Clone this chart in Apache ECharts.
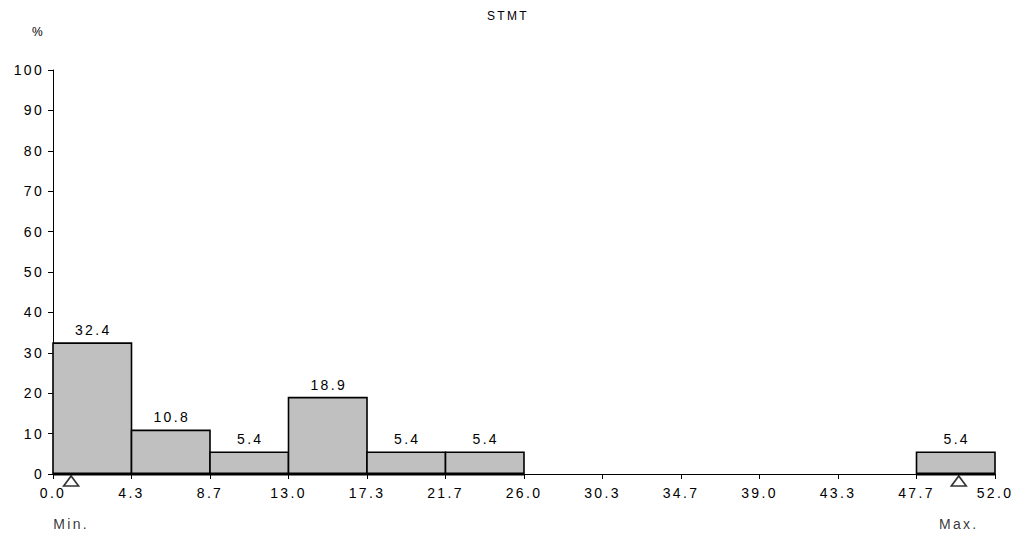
<!DOCTYPE html>
<html>
<head>
<meta charset="utf-8">
<script src="https://cdn.jsdelivr.net/npm/echarts@6/dist/echarts.min.js"></script>
<style>
html,body{margin:0;padding:0;background:#fff;}
#chart{width:1020px;height:538px;letter-spacing:2.3px;}
</style>
</head>
<body>
<div id="chart"></div>
<script>
var titleText = 'STMT';
var binStart = 0;
var binWidth = 13 / 3;
var binCount = 12;
var percentValues = [32.4, 10.8, 5.4, 18.9, 5.4, 5.4, 0, 0, 0, 0, 0, 5.4];
var minValue = 1.0;
var maxValue = 50.0;
var markerLabels = ['Min.', 'Max.'];
var yTicks = [0, 100, 10];

var barData = percentValues.map(function (v, i) {
  return [binStart + i * binWidth, binStart + (i + 1) * binWidth, v];
});

var font = 'Arial, "Liberation Sans", sans-serif';
var chart = echarts.init(document.getElementById('chart'), null, {renderer: 'svg'});
chart.setOption({
  animation: false,
  title: {
    text: titleText, left: 482, top: 5,
    textStyle: {fontSize: 12, fontWeight: 'normal', color: '#000', fontFamily: font}
  },
  grid: {left: 53, right: 25, top: 70, bottom: 64},
  xAxis: {
    type: 'value', min: 0, max: binWidth * binCount, interval: binWidth,
    axisLine: {lineStyle: {color: '#000', width: 1}},
    axisTick: {length: 5, lineStyle: {color: '#000'}},
    splitLine: {show: false},
    axisLabel: {
      color: '#000', fontSize: 14, fontFamily: font, margin: 12,
      formatter: function (v) { return v.toFixed(1); }
    }
  },
  yAxis: {
    type: 'value', min: yTicks[0], max: yTicks[1], interval: yTicks[2],
    name: '%', nameLocation: 'end', nameGap: 32,
    nameTextStyle: {color: '#000', fontSize: 12, fontFamily: font, align: 'right', padding: [0, 8, 0, 0]},
    axisLine: {show: true, lineStyle: {color: '#000', width: 1}},
    axisTick: {show: true, length: 5, lineStyle: {color: '#000'}},
    splitLine: {show: false},
    axisLabel: {color: '#000', fontSize: 14, fontFamily: font, margin: 9}
  },
  series: [{
    type: 'custom',
    data: barData,
    renderItem: function (params, api) {
      var v = api.value(2);
      if (!v) return null;
      var p0 = api.coord([api.value(0), v]);
      var p1 = api.coord([api.value(1), 0]);
      return {
        type: 'group',
        children: [{
          type: 'rect',
          shape: {x: p0[0], y: p0[1], width: p1[0] - p0[0], height: p1[1] - p0[1]},
          style: {fill: '#c0c0c0', stroke: '#000', lineWidth: 1.6}
        }, {
          type: 'line',
          shape: {x1: p0[0], y1: p1[1], x2: p1[0], y2: p1[1]},
          style: {stroke: '#000', lineWidth: 3}
        }, {
          type: 'text',
          style: {
            text: v.toFixed(1), x: (p0[0] + p1[0]) / 2 + 1, y: p0[1] - 6,
            textAlign: 'center', textVerticalAlign: 'bottom',
            fill: '#000', fontSize: 14, fontFamily: font
          }
        }]
      };
    },
    z: 3
  }, {
    type: 'scatter',
    data: [[minValue, 0, markerLabels[0]], [maxValue, 0, markerLabels[1]]],
    symbol: 'triangle', symbolSize: [15, 10], symbolOffset: [0, 7],
    itemStyle: {color: '#fff', borderColor: '#000', borderWidth: 1.6},
    label: {
      show: true, position: 'bottom', distance: 30,
      formatter: function (p) { return p.data[2]; },
      color: '#000', fontSize: 14, fontFamily: font
    },
    z: 4
  }]
});
</script>
</body>
</html>
